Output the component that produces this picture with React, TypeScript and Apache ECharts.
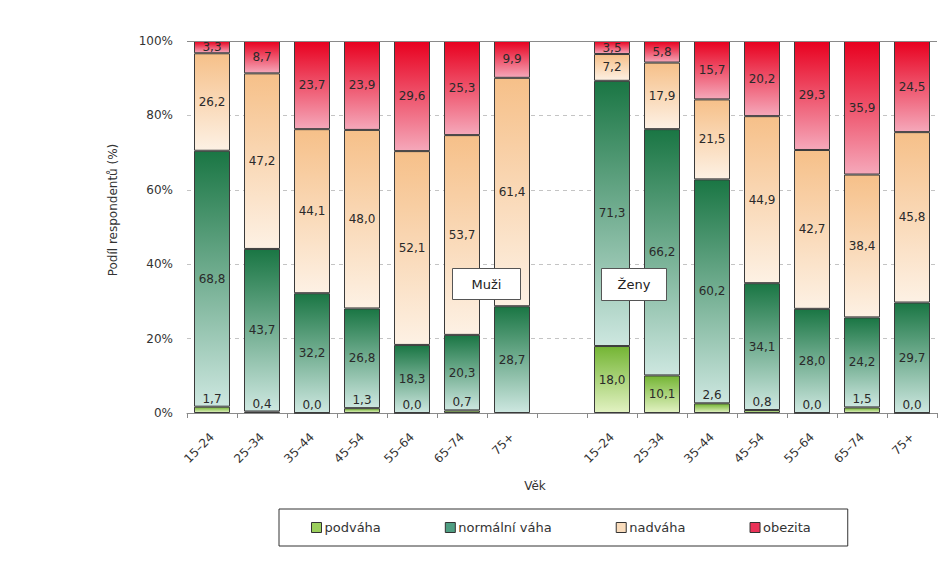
import React, { useEffect, useRef } from "react";
import * as echarts from "echarts";

const categories = [
  "15–24", "25–34", "35–44", "45–54", "55–64", "65–74", "75+",
  "",
  "15–24", "25–34", "35–44", "45–54", "55–64", "65–74", "75+",
];
const podvaha = [1.7, 0.4, 0.0, 1.3, 0.0, 0.7, null, null, 18.0, 10.1, 2.6, 0.8, 0.0, 1.5, 0.0];
const normalni = [68.8, 43.7, 32.2, 26.8, 18.3, 20.3, 28.7, null, 71.3, 66.2, 60.2, 34.1, 28.0, 24.2, 29.7];
const nadvaha = [26.2, 47.2, 44.1, 48.0, 52.1, 53.7, 61.4, null, 7.2, 17.9, 21.5, 44.9, 42.7, 38.4, 45.8];
const obezita = [3.3, 8.7, 23.7, 23.9, 29.6, 25.3, 9.9, null, 3.5, 5.8, 15.7, 20.2, 29.3, 35.9, 24.5];
const yTicks = [0, 20, 40, 60, 80, 100];

const FONT = "'DejaVu Sans', sans-serif";

const fmt = (v: number) => v.toFixed(1).replace(".", ",");

const grad = (top: string, bottom: string) =>
  new echarts.graphic.LinearGradient(0, 0, 0, 1, [
    { offset: 0, color: top },
    { offset: 1, color: bottom },
  ]);

export default function App() {
  const ref = useRef<HTMLDivElement>(null);

  useEffect(() => {
    if (!ref.current) return;
    const chart = echarts.init(ref.current, null, { renderer: "svg" });

    const labelBase = {
      show: true,
      color: "#2a2a2a",
      fontSize: 12,
      fontFamily: FONT,
      formatter: (p: any) => (p.value == null ? "" : fmt(Number(p.value))),
    };
    const border = { borderColor: "#3a3a3a", borderWidth: 1 };

    const series: any[] = [
      {
        name: "podváha",
        type: "bar",
        stack: "total",
        barWidth: 36,
        data: podvaha.map((v) =>
          v == null
            ? null
            : { value: v, label: { position: v < 5 ? "top" : "inside", distance: 2 } }
        ),
        itemStyle: { color: grad("#74b534", "#e2f2c2"), ...border },
        label: { ...labelBase },
      },
      {
        name: "normální váha",
        type: "bar",
        stack: "total",
        barWidth: 36,
        data: normalni,
        itemStyle: { color: grad("#1a7644", "#cde7e0"), ...border },
        label: { ...labelBase, position: "inside" },
      },
      {
        name: "nadváha",
        type: "bar",
        stack: "total",
        barWidth: 36,
        data: nadvaha,
        itemStyle: { color: grad("#f6c089", "#fdf1e4"), ...border },
        label: { ...labelBase, position: "inside" },
      },
      {
        name: "obezita",
        type: "bar",
        stack: "total",
        barWidth: 36,
        data: obezita,
        itemStyle: { color: grad("#e8001f", "#f5a8ba"), ...border },
        label: { ...labelBase, position: "inside" },
        markLine: {
          silent: true,
          symbol: "none",
          label: { show: false },
          lineStyle: { color: "#8a8a8a", type: "solid", width: 1 },
          data: [{ yAxis: 100 }],
        },
      },
    ];

    const boxText = (text: string, x: number, y: number, w: number, h: number) => ({
      type: "group",
      left: x,
      top: y,
      z: 100,
      children: [
        {
          type: "rect",
          z: 100,
          shape: { x: 0, y: 0, width: w, height: h },
          style: { fill: "#fff", stroke: "#555", lineWidth: 1 },
        },
        {
          type: "text",
          z: 101,
          x: w / 2,
          y: h / 2,
          style: {
            text,
            fill: "#222",
            fontSize: 13,
            fontFamily: FONT,
            align: "center",
            verticalAlign: "middle",
          },
        },
      ],
    });

    chart.setOption({
      animation: false,
      backgroundColor: "#ffffff",
      grid: { left: 187, right: 7, top: 41, bottom: 150 },
      xAxis: {
        type: "category",
        data: categories,
        name: "Věk",
        nameLocation: "middle",
        nameGap: 67,
        nameTextStyle: { fontSize: 12, color: "#333", fontFamily: FONT, padding: [0, 54, 0, 0] },
        axisLine: { lineStyle: { color: "#8a8a8a" } },
        axisTick: { show: true, interval: 0, length: 5, lineStyle: { color: "#8a8a8a" } },
        axisLabel: {
          interval: 0,
          rotate: 45,
          fontSize: 12,
          color: "#333",
          fontFamily: FONT,
          margin: 22,
        },
      },
      yAxis: {
        type: "value",
        min: 0,
        max: 100,
        interval: 20,
        axisLine: { show: false },
        axisTick: { show: false },
        axisLabel: {
          fontSize: 12,
          color: "#333",
          fontFamily: FONT,
          margin: 14,
          formatter: (v: number) => (yTicks.includes(v) ? `${v}%` : ""),
        },
        splitLine: { lineStyle: { color: "#c4c4c4", type: [4, 4] } },
      },
      legend: {
        left: 279,
        top: 509,
        padding: [12, 37, 12, 32],
        itemGap: 64,
        itemWidth: 10,
        itemHeight: 10,
        icon: "rect",
        borderColor: "#333",
        borderWidth: 1,
        textStyle: { fontSize: 13, color: "#333", fontFamily: FONT, padding: [0, 0, 0, -2] },
        itemStyle: { borderColor: "#333", borderWidth: 1 },
        data: [
          { name: "podváha", itemStyle: { color: "#9bcf5c" } },
          { name: "normální váha", itemStyle: { color: "#4f9e82" } },
          { name: "nadváha", itemStyle: { color: "#f9dcbc" } },
          { name: "obezita", itemStyle: { color: "#ea3358" } },
        ],
      },
      graphic: [
        {
          type: "text",
          x: 113,
          y: 210,
          rotation: Math.PI / 2,
          style: {
            text: "Podíl respondentů (%)",
            fill: "#333",
            fontSize: 12,
            fontFamily: FONT,
            align: "center",
            verticalAlign: "middle",
          },
        },
        boxText("Muži", 452, 268, 68, 31),
        boxText("Ženy", 601, 268, 65, 32),
      ],
      series,
    });

    return () => chart.dispose();
  }, []);

  return (
    <div
      ref={ref}
      style={{ position: "fixed", left: 0, top: 0, width: 944, height: 563 }}
    />
  );
}
